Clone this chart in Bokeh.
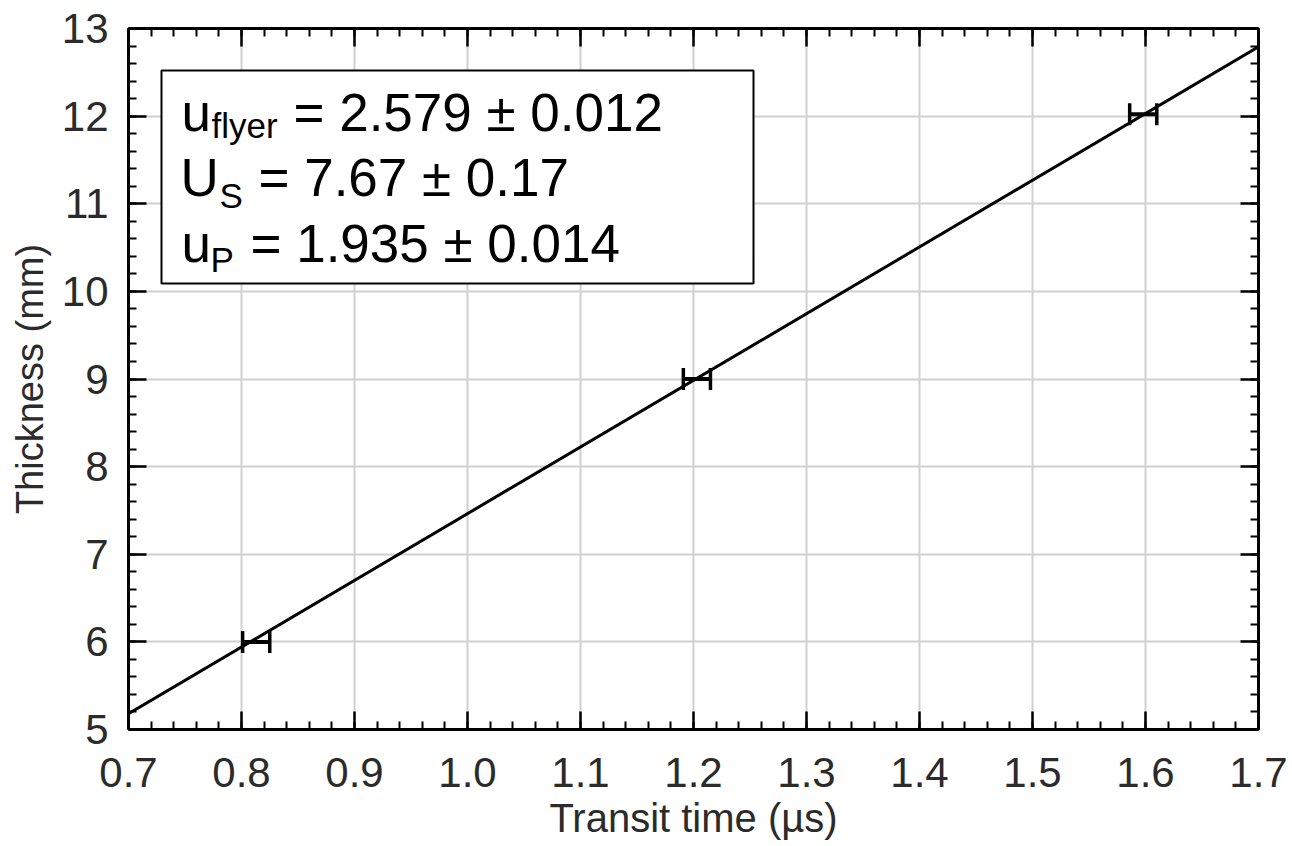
from bokeh.plotting import figure
from bokeh.models import (ColumnDataSource, Whisker, TeeHead, LinearAxis, Range1d,
                          BoxAnnotation, Label, FixedTicker, Grid, CustomJSTickFormatter)
from bokeh.embed import file_html
from bokeh.resources import INLINE

# ---- data ----
transit_time = [0.813, 1.203, 1.598]      # µs
thickness = [6.0, 9.0, 12.02]             # mm
time_err = [0.012, 0.012, 0.012]          # µs
fit_x = [0.7, 1.7]
fit_y = [5.18, 12.79]

x_ticks = [0.7, 0.8, 0.9, 1.0, 1.1, 1.2, 1.3, 1.4, 1.5, 1.6, 1.7]
x_labels = ["0.7", "0.8", "0.9", "1.0", "1.1", "1.2", "1.3", "1.4", "1.5", "1.6", "1.7"]
y_ticks = [5, 6, 7, 8, 9, 10, 11, 12, 13]

line1 = ("u", "flyer", "= 2.579 ± 0.012")
line2 = ("U", "S", "= 7.67 ± 0.17")
line3 = ("u", "P", "= 1.935 ± 0.014")

FONT = "Liberation Sans"
TXT = "#2b2b2b"

x_minor = [round(0.7 + 0.02 * i, 3) for i in range(51)]
y_minor = [round(5 + 0.2 * i, 2) for i in range(41)]

p = figure(width=1292, height=846, output_backend="svg", toolbar_location=None,
           x_range=Range1d(0.7, 1.7), y_range=Range1d(5, 13),
           min_border_left=128, min_border_right=34, min_border_top=28,
           min_border_bottom=117, x_axis_type=None, y_axis_type=None)
p.outline_line_color = None
p.background_fill_color = "white"

blank = CustomJSTickFormatter(code="return ''")

def style_axis(ax, labels=True):
    ax.axis_line_width = 3
    ax.axis_line_color = "black"
    ax.major_tick_in = 18
    ax.major_tick_out = 0
    ax.minor_tick_in = 8
    ax.minor_tick_out = 0
    ax.major_tick_line_width = 2.5
    ax.minor_tick_line_width = 2
    ax.major_tick_line_color = "black"
    ax.minor_tick_line_color = "black"
    ax.major_label_text_font = FONT
    ax.major_label_text_color = TXT
    ax.axis_label_text_font = FONT
    ax.axis_label_text_color = TXT
    ax.axis_label_text_font_style = "normal"
    ax.major_label_text_font_size = "42px"
    if not labels:
        ax.formatter = blank
        ax.major_label_standoff = 0

def xticker():
    return FixedTicker(ticks=x_ticks, minor_ticks=x_minor)

def yticker():
    return FixedTicker(ticks=y_ticks, minor_ticks=y_minor)

xb = LinearAxis(ticker=xticker(), axis_label="Transit time (µs)")
style_axis(xb)
xb.axis_label_text_font_size = "40px"
xb.major_label_overrides = {v: s for v, s in zip(x_ticks, x_labels)}
xb.major_label_standoff = 28
xb.axis_label_standoff = 6
p.add_layout(xb, "below")

yl = LinearAxis(ticker=yticker(), axis_label="Thickness (mm)")
style_axis(yl)
yl.axis_label_text_font_size = "38px"
yl.major_label_standoff = 20
yl.axis_label_standoff = 8
p.add_layout(yl, "left")

xa = LinearAxis(ticker=xticker())
style_axis(xa, labels=False)
p.add_layout(xa, "above")
yr = LinearAxis(ticker=yticker())
style_axis(yr, labels=False)
p.add_layout(yr, "right")

p.add_layout(Grid(dimension=0, ticker=FixedTicker(ticks=x_ticks), grid_line_color="#d0d0d0", grid_line_width=2))
p.add_layout(Grid(dimension=1, ticker=FixedTicker(ticks=y_ticks), grid_line_color="#d0d0d0", grid_line_width=2))

# fit line
p.line(fit_x, fit_y, line_color="black", line_width=3)

# error bars
src = ColumnDataSource(dict(
    y=thickness,
    lo=[t - e for t, e in zip(transit_time, time_err)],
    hi=[t + e for t, e in zip(transit_time, time_err)],
))
w = Whisker(source=src, base="y", lower="lo", upper="hi", dimension="width",
            line_color="black", line_width=4,
            lower_head=TeeHead(size=22, line_width=3.5, line_color="black"),
            upper_head=TeeHead(size=22, line_width=3.5, line_color="black"))
p.add_layout(w)

# text box
bx0, bx1 = 0.7292, 1.2531
by0, by1 = 10.089, 12.521
p.add_layout(BoxAnnotation(left=bx0, right=bx1, bottom=by0, top=by1,
                           fill_color="white", fill_alpha=1.0,
                           line_color="black", line_alpha=1.0, line_width=2))

MAIN = "53px"
SUB = "35px"
lines = [line1, line2, line3]
# pixel layout: (main x, baseline, sub x, sub baseline, rest x) relative to box top-left
layout = [(20, 42, 50, 55, 132), (19, 107, 58, 125, 97), (20, 173, 49, 189, 89)]
for (m, s, r), (mx, mb, sx, sb, rx) in zip(lines, layout):
    for txt, ox, oy, fs in ((m, mx, mb, MAIN), (s, sx, sb, SUB), (r, rx, mb, MAIN)):
        p.add_layout(Label(x=bx0, y=by1, x_offset=ox, y_offset=-oy, text=txt,
                           text_font=FONT, text_font_size=fs, text_color="black",
                           text_baseline="alphabetic", text_align="left"))

open("out.html", "w").write(file_html(p, INLINE))
